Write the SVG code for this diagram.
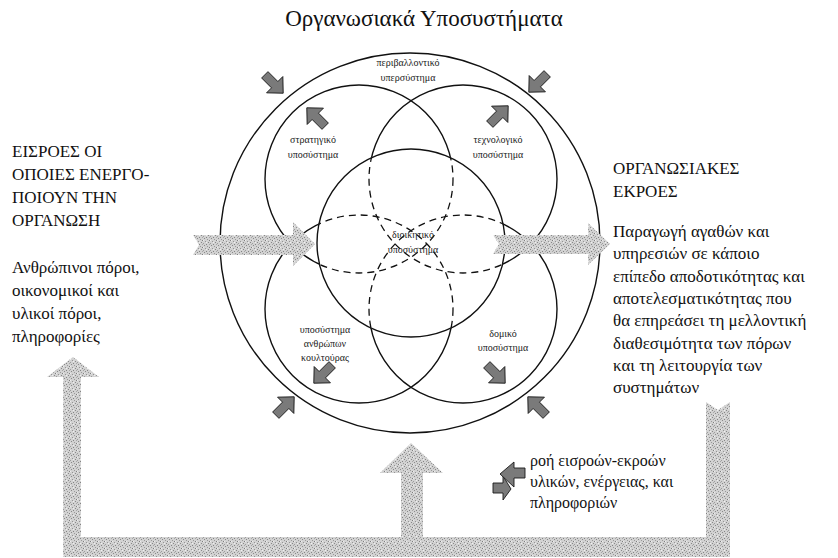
<svg xmlns="http://www.w3.org/2000/svg" width="838" height="558" viewBox="0 0 838 558">
  <style>
    .ring { fill: none; stroke: #111; stroke-width: 1.4; }
    .dash { fill: none; stroke: #111; stroke-width: 1.3; stroke-dasharray: 7 5; }
    .flow { fill: url(#speckle); }
    .push { fill: #7a7a7a; stroke: #1a1a1a; stroke-width: 0.9; stroke-linejoin: miter; }
    .lbl { font-family: 'Liberation Serif', serif; font-size: 10px; fill: #222; text-anchor: middle; }
    .big { font-family: 'Liberation Serif', serif; font-size: 17px; fill: #111; }
    .leg { font-family: 'Liberation Serif', serif; font-size: 16px; fill: #111; }
    .title { font-family: 'Liberation Serif', serif; font-size: 23px; fill: #111; text-anchor: middle; }
  </style>
  <defs>
    <!-- speckled light-grey fill used by the resource flow arrows -->
    <pattern id="speckle" patternUnits="userSpaceOnUse" width="7" height="7">
      <rect width="7" height="7" fill="#d2d2d2"/>
      <rect x="1" y="0" width="1" height="1" fill="#8a8a8a"/>
      <rect x="4" y="1" width="1" height="1" fill="#9a9a9a"/>
      <rect x="6" y="2" width="1" height="1" fill="#7f7f7f"/>
      <rect x="2" y="3" width="1" height="1" fill="#959595"/>
      <rect x="5" y="4" width="1" height="1" fill="#888"/>
      <rect x="0" y="5" width="1" height="1" fill="#9c9c9c"/>
      <rect x="3" y="6" width="1" height="1" fill="#848484"/>
      <rect x="6" y="6" width="1" height="1" fill="#a8a8a8"/>
      <rect x="0" y="2" width="1" height="1" fill="#ededed"/>
      <rect x="3" y="4" width="1" height="1" fill="#f0f0f0"/>
    </pattern>
    <!-- interior of the administrative subsystem, and everything outside it -->
    <clipPath id="core"><circle cx="411" cy="243" r="94"/></clipPath>
    <clipPath id="outsideCore">
      <path clip-rule="evenodd" d="M0 0H838V558H0Z M411 149A94 94 0 1 1 410.99 149Z"/>
    </clipPath>
    <!-- small dark block arrow pointing along +x -->
    <polygon id="pushArrow" class="push" points="-13,-4.5 1,-4.5 1,-11.5 13,0 1,11.5 1,4.5 -13,4.5"/>
  </defs>

  <text class="title" x="424" y="26">Οργανωσιακά Υποσυστήματα</text>

  <!-- environment supersystem -->
  <g id="environment">
    <circle class="ring" cx="410" cy="243" r="190"/>
    <text class="lbl" x="408" y="66">περιβαλλοντικό</text>
    <text class="lbl" x="408" y="81">υπερσύστημα</text>
  </g>

  <g id="strategic">
    <circle class="ring" cx="359" cy="179" r="94" clip-path="url(#outsideCore)"/>
    <circle class="dash" cx="359" cy="179" r="94" clip-path="url(#core)"/>
    <text class="lbl" x="313" y="143">στρατηγικό</text>
    <text class="lbl" x="313" y="158">υποσύστημα</text>
  </g>

  <g id="technological">
    <circle class="ring" cx="463" cy="179" r="94" clip-path="url(#outsideCore)"/>
    <circle class="dash" cx="463" cy="179" r="94" clip-path="url(#core)"/>
    <text class="lbl" x="498" y="143">τεχνολογικό</text>
    <text class="lbl" x="498" y="158">υποσύστημα</text>
  </g>

  <g id="human-culture">
    <circle class="ring" cx="359" cy="309" r="94" clip-path="url(#outsideCore)"/>
    <circle class="dash" cx="359" cy="309" r="94" clip-path="url(#core)"/>
    <text class="lbl" x="325" y="333">υποσύστημα</text>
    <text class="lbl" x="325" y="347">ανθρώπων</text>
    <text class="lbl" x="325" y="361">κουλτούρας</text>
  </g>

  <g id="structural">
    <circle class="ring" cx="463" cy="309" r="94" clip-path="url(#outsideCore)"/>
    <circle class="dash" cx="463" cy="309" r="94" clip-path="url(#core)"/>
    <text class="lbl" x="503" y="337">δομικό</text>
    <text class="lbl" x="503" y="351">υποσύστημα</text>
  </g>

  <g id="administrative">
    <circle class="ring" cx="411" cy="243" r="94"/>
    <text class="lbl" x="413" y="238">διοικητικό</text>
    <text class="lbl" x="413" y="253">υποσύστημα</text>
  </g>

  <g id="inputs">
    <text class="big" x="12" y="157">ΕΙΣΡΟΕΣ ΟΙ</text>
    <text class="big" x="12" y="180">ΟΠΟΙΕΣ ΕΝΕΡΓΟ-</text>
    <text class="big" x="12" y="203">ΠΟΙΟΥΝ ΤΗΝ</text>
    <text class="big" x="12" y="226">ΟΡΓΑΝΩΣΗ</text>
    <text class="big" x="12" y="273">Ανθρώπινοι πόροι,</text>
    <text class="big" x="12" y="296">οικονομικοί και</text>
    <text class="big" x="12" y="319">υλικοί πόροι,</text>
    <text class="big" x="12" y="342">πληροφορίες</text>
  </g>

  <g id="outputs">
    <text class="big" x="613" y="174">ΟΡΓΑΝΩΣΙΑΚΕΣ</text>
    <text class="big" x="613" y="197">ΕΚΡΟΕΣ</text>
    <text class="big" x="613" y="237">Παραγωγή αγαθών και</text>
    <text class="big" x="613" y="259">υπηρεσιών σε κάποιο</text>
    <text class="big" x="613" y="282">επίπεδο αποδοτικότητας και</text>
    <text class="big" x="613" y="304">αποτελεσματικότητας που</text>
    <text class="big" x="613" y="326">θα επηρεάσει τη μελλοντική</text>
    <text class="big" x="613" y="349">διαθεσιμότητα των πόρων</text>
    <text class="big" x="613" y="371">και τη λειτουργία των</text>
    <text class="big" x="613" y="393">συστημάτων</text>
  </g>

  <g id="legend">
    <polygon class="push" points="493,483 503,483 503,476 511,489 503,500 503,493 493,493"/>
    <polygon class="push" points="525,468 514,468 514,462 500,474 514,487 514,478 525,478"/>
    <text class="leg" x="530" y="466">ροή εισροών-εκροών</text>
    <text class="leg" x="530" y="487">υλικών, ενέργειας, και</text>
    <text class="leg" x="530" y="508">πληροφοριών</text>
  </g>

  <g id="connectors">
    <!-- inputs entering and outputs leaving the organisation -->
    <polygon class="flow" points="193,235 293,235 293,222 315,244 293,266 293,255 193,255 199,245"/>
    <polygon class="flow" points="493,235 588,235 588,223 610,244 588,265 588,254 493,254 499,244"/>
    <!-- feedback loop from outputs back to inputs -->
    <polygon class="flow" points="73,357 99,377 81,377 81,537 401,537 401,473 380,473 411,443 443,473 423,473 423,537 706,537 706,402 718,410 730,402 730,557 63,557 63,377 47,377"/>
    <!-- exchanges between the supersystem and the subsystems -->
    <use href="#pushArrow" transform="translate(274,84) rotate(45)"/>
    <use href="#pushArrow" transform="translate(538,83) rotate(135)"/>
    <use href="#pushArrow" transform="translate(316,117) rotate(-135)"/>
    <use href="#pushArrow" transform="translate(499,115) rotate(-45)"/>
    <use href="#pushArrow" transform="translate(323,374) rotate(135)"/>
    <use href="#pushArrow" transform="translate(496,374) rotate(45)"/>
    <use href="#pushArrow" transform="translate(285,406) rotate(-45)"/>
    <use href="#pushArrow" transform="translate(537,406) rotate(-135)"/>
  </g>
</svg>
